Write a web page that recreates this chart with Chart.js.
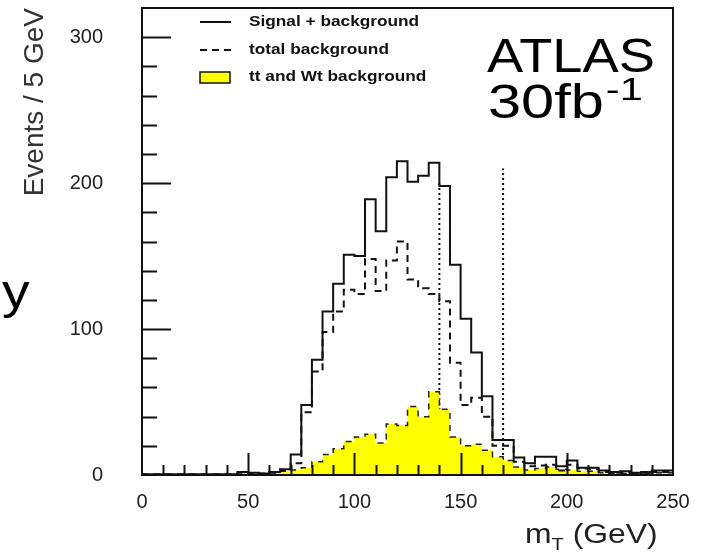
<!DOCTYPE html>
<html>
<head>
<meta charset="utf-8">
<script src="https://cdn.jsdelivr.net/npm/chart.js@4.4.1/dist/chart.umd.min.js"></script>
<style>
  html, body { margin: 0; padding: 0; background: #fff; }
  canvas { display: block; }
</style>
</head>
<body>
<canvas id="mt-chart" width="703" height="554"></canvas>
<script>
// bin lower edges, 5 GeV bins
var binLow = [0, 5, 10, 15, 20, 25, 30, 35, 40, 45,
              50, 55, 60, 65, 70, 75, 80, 85, 90, 95,
              100, 105, 110, 115, 120, 125, 130, 135, 140, 145,
              150, 155, 160, 165, 170, 175, 180, 185, 190, 195,
              200, 205, 210, 215, 220, 225, 230, 235, 240, 245];
var binEnd = 250;

// Signal + background
var signalBkg = [1.5, 0.5, 0.5, 0.5, 0.5, 0.5, 0.5, 0.5, 0.5, 0.5,
                 2, 1.5, 1, 2, 4, 14, 48, 79, 112, 131,
                 151, 150, 189, 167, 204, 215, 201, 205, 214, 198,
                 144, 107, 84, 54, 24, 24, 12, 8, 12.5, 12.5,
                 6, 10, 5, 5, 3, 2, 2.5, 1.5, 2, 3];

// total background
var totalBkg = [1, 0.3, 0.3, 0.3, 0.3, 0.3, 0.3, 0.3, 0.3, 0.3,
                1.5, 1, 0.8, 1.5, 3, 8, 43, 71, 98, 112,
                127, 124, 148, 126, 147, 160, 134, 128, 124, 119,
                77, 48, 53, 40, 20, 20, 9, 6, 6.5, 7,
                3, 7, 4.5, 4, 2, 1.5, 1.5, 1, 1.5, 2];

// tt and Wt background
var ttWtBkg = [0.5, 0.3, 0.3, 0.3, 0.3, 0.3, 0.3, 0.3, 0.3, 0.3,
               2, 1.5, 1, 2, 2.5, 3.5, 5, 9, 14, 18,
               23, 26, 28, 22, 35, 34, 47, 40, 57, 45,
               26, 20, 21, 17, 12.5, 10, 5.5, 3.5, 4.5, 5.5,
               4, 3.5, 2.5, 2.5, 1.5, 1, 1, 1, 1, 1.5];

// mass window cuts (dotted lines)
var cutMass = [140, 170];
var cutTop = [200, 210];

var xTicks = [0, 50, 100, 150, 200, 250];
var yTicks = [0, 100, 200, 300];

var legendLabels = ["Signal + background", "total background", "tt and Wt background"];

// histogram -> step points
function steps(values) {
    var pts = binLow.map(function (x, i) { return {x: x, y: values[i]}; });
    pts.push({x: binEnd, y: values[values.length - 1]});
    return pts;
}

function cutLine(i) {
    return [{x: cutMass[i], y: 0}, {x: cutMass[i], y: cutTop[i]}];
}

function stretchText(ctx, text, x, y, sx) {
    ctx.save();
    ctx.translate(x, y);
    ctx.scale(sx, 1);
    ctx.fillText(text, 0, 0);
    var w = ctx.measureText(text).width * sx;
    ctx.restore();
    return w;
}

var atlasPlugin = {
    id: 'atlasFrame',
    afterDraw: function (chart) {
        var ctx = chart.ctx;
        var a = chart.chartArea;
        var xs = chart.scales.x, ys = chart.scales.y;
        var v, p, len;

        ctx.save();
        ctx.strokeStyle = '#111';
        ctx.lineWidth = 2;
        ctx.setLineDash([]);

        // y ticks, inward
        for (v = 20; v < 320; v += 20) {
            p = Math.round(ys.getPixelForValue(v)) + 0.5;
            len = v % 100 === 0 ? 29 : 15;
            ctx.beginPath(); ctx.moveTo(a.left, p); ctx.lineTo(a.left + len, p); ctx.stroke();
        }
        // x ticks, inward
        for (v = 10; v < 250; v += 10) {
            p = Math.round(xs.getPixelForValue(v)) + 0.5;
            len = v % 50 === 0 ? 22 : 10;
            ctx.beginPath(); ctx.moveTo(p, a.bottom); ctx.lineTo(p, a.bottom - len); ctx.stroke();
        }
        // frame
        ctx.strokeRect(a.left, a.top, a.right - a.left, a.bottom - a.top);

        // legend
        var ds = chart.data.datasets;
        var rowY = [22, 50, 77];
        ctx.font = 'bold 15px "Liberation Sans", Arial, sans-serif';
        ctx.fillStyle = '#111';
        ctx.textBaseline = 'middle';
        ctx.textAlign = 'left';
        for (var i = 0; i < 3; i++) {
            var d = ds[i];
            if (i < 2) {
                ctx.strokeStyle = d.borderColor;
                ctx.lineWidth = 2;
                ctx.setLineDash(d.borderDash || []);
                ctx.beginPath(); ctx.moveTo(200, rowY[i]); ctx.lineTo(231, rowY[i]); ctx.stroke();
            } else {
                ctx.setLineDash([]);
                ctx.fillStyle = d.backgroundColor;
                ctx.fillRect(200, rowY[i] - 5, 30, 11);
                ctx.strokeStyle = '#111';
                ctx.lineWidth = 1.5;
                ctx.strokeRect(200, rowY[i] - 5, 30, 11);
                ctx.fillStyle = '#111';
            }
            stretchText(ctx, d.label, 249, rowY[i], 1.15);
        }

        // ATLAS, luminosity
        ctx.fillStyle = '#000';
        ctx.textBaseline = 'alphabetic';
        ctx.font = '48px "Liberation Sans", Arial, sans-serif';
        stretchText(ctx, 'ATLAS', 487, 72, 1.13);
        var w = stretchText(ctx, '30fb', 488, 118, 1.24);
        ctx.font = '32px "Liberation Sans", Arial, sans-serif';
        stretchText(ctx, '-1', 488 + w + 2, 100, 1.3);

        // stray slide letter on the left
        ctx.font = '48px "Liberation Sans", Arial, sans-serif';
        stretchText(ctx, 'y', 2, 308, 1.15);

        // x axis title m_T (GeV)
        ctx.fillStyle = '#222';
        ctx.font = '27px "Liberation Sans", Arial, sans-serif';
        var x0 = 525;
        x0 += stretchText(ctx, 'm', x0, 543, 1.18);
        ctx.font = '17px "Liberation Sans", Arial, sans-serif';
        x0 += stretchText(ctx, 'T', x0, 550, 1.18);
        ctx.font = '27px "Liberation Sans", Arial, sans-serif';
        stretchText(ctx, ' (GeV)', x0, 543, 1.18);

        ctx.restore();
    }
};

var tickFont = {family: '"Liberation Sans", Arial, sans-serif', size: 20};

var ctx1 = document.getElementById('mt-chart').getContext('2d');
var myChart = new Chart(ctx1, {
    type: 'line',
    data: {
        datasets: [
            {
                label: legendLabels[0],
                data: steps(signalBkg),
                stepped: 'after',
                borderColor: '#111',
                borderWidth: 2,
                fill: false
            },
            {
                label: legendLabels[1],
                data: steps(totalBkg),
                stepped: 'after',
                borderColor: '#111',
                borderWidth: 2,
                borderDash: [7, 5],
                fill: false
            },
            {
                label: legendLabels[2],
                data: steps(ttWtBkg),
                stepped: 'after',
                borderColor: '#222',
                borderWidth: 1.5,
                borderDash: [6, 6],
                backgroundColor: '#ffff00',
                fill: 'origin'
            },
            {
                label: 'cut low',
                data: cutLine(0),
                borderColor: '#111',
                borderWidth: 2,
                borderDash: [2, 3],
                fill: false
            },
            {
                label: 'cut high',
                data: cutLine(1),
                borderColor: '#111',
                borderWidth: 2,
                borderDash: [2, 3],
                fill: false
            }
        ]
    },
    options: {
        responsive: false,
        animation: false,
        layout: {padding: {top: 8, right: 30, left: 0, bottom: 0}},
        elements: {point: {radius: 0}, line: {tension: 0}},
        plugins: {legend: {display: false}, tooltip: {enabled: false}},
        scales: {
            x: {
                type: 'linear',
                min: 0,
                max: 250,
                afterBuildTicks: function (s) { s.ticks = xTicks.map(function (v) { return {value: v}; }); },
                afterFit: function (s) {
                    s.height = 79;
                    s.paddingLeft = 0;
                    s.paddingRight = 0;
                },
                grid: {display: false, drawTicks: false},
                border: {display: false},
                ticks: {padding: 15, maxRotation: 0, autoSkip: false, font: tickFont, color: '#222'}
            },
            y: {
                type: 'linear',
                min: 0,
                max: 320,
                afterBuildTicks: function (s) { s.ticks = yTicks.map(function (v) { return {value: v}; }); },
                afterFit: function (s) {
                    s.width = 142;
                    s.paddingTop = 0;
                    s.paddingBottom = 0;
                },
                grid: {display: false, drawTicks: false},
                border: {display: false},
                ticks: {padding: 39, font: tickFont, color: '#222'},
                title: {
                    display: true,
                    text: 'Events / 5 GeV',
                    align: 'end',
                    color: '#333',
                    font: {family: '"Liberation Sans", Arial, sans-serif', size: 28},
                    padding: {top: 18, bottom: 0}
                }
            }
        }
    },
    plugins: [atlasPlugin]
});
</script>
</body>
</html>
